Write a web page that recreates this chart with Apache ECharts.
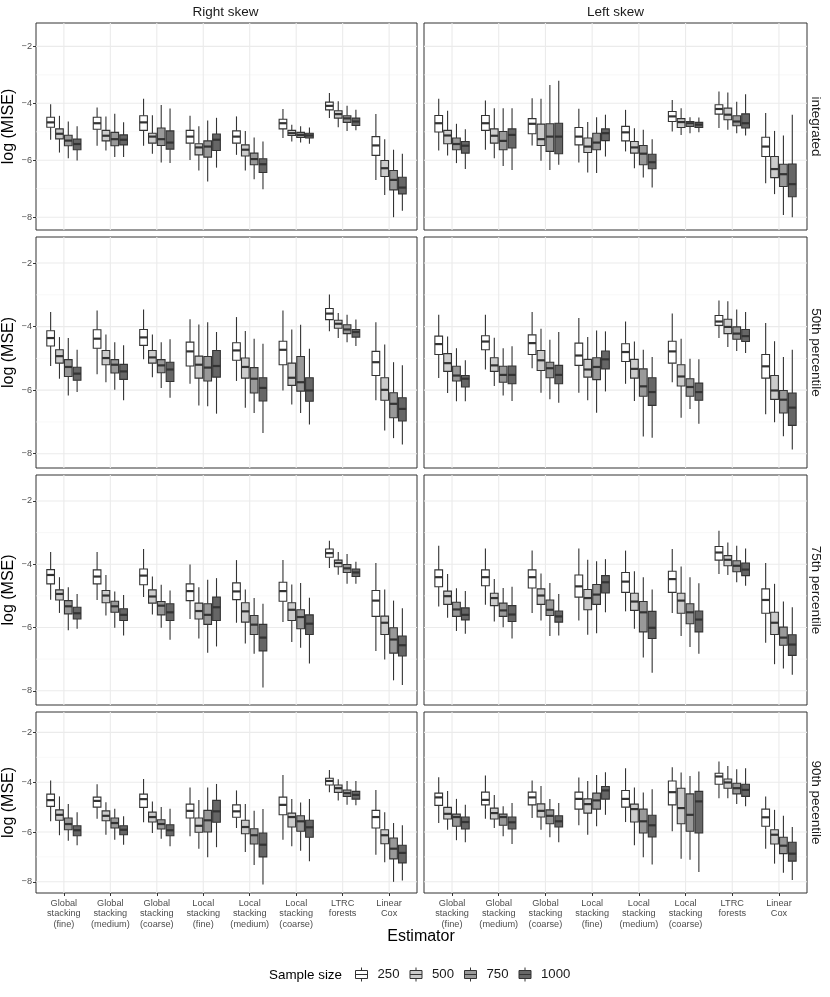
<!DOCTYPE html>
<html>
<head>
<meta charset="utf-8">
<title>log (MSE) by estimator and sample size</title>
<script src="https://cdn.jsdelivr.net/npm/echarts@6/dist/echarts.min.js"></script>
<style>
  html, body { margin: 0; padding: 0; background: #fff; }
  #chart { width: 830px; height: 997px; }
</style>
</head>
<body>
<div id="chart"></div>
<script>
// --- data: each estimator holds 4 boxes (n = 250, 500, 750, 1000) as [low, q1, median, q3, high] ---
const ESTIMATORS = [
  'Global\nstacking\n(fine)', 'Global\nstacking\n(medium)', 'Global\nstacking\n(coarse)',
  'Local\nstacking\n(fine)', 'Local\nstacking\n(medium)', 'Local\nstacking\n(coarse)',
  'LTRC\nforests', 'Linear\nCox'
];
const SIZES = ['250', '500', '750', '1000'];
const Y_TICKS = [-8, -6, -4, -2];
const Y_MINOR = [-7, -5, -3];
const COL_TITLES = ['Right skew', 'Left skew'];
const ROW_TITLES = ['integrated', '50th percentile', '75th percentile', '90th pecentile'];
const Y_TITLES = ['log (MISE)', 'log (MSE)', 'log (MSE)', 'log (MSE)'];

const rightIntegrated = [
  [[-5.28,-4.84,-4.67,-4.49,-4.03], [-5.73,-5.25,-5.07,-4.90,-4.44], [-5.93,-5.49,-5.31,-5.12,-4.64], [-6.01,-5.63,-5.43,-5.26,-4.81]],
  [[-5.49,-4.91,-4.70,-4.49,-4.15], [-5.66,-5.32,-5.14,-4.95,-4.46], [-5.89,-5.49,-5.26,-5.02,-4.37], [-5.89,-5.46,-5.28,-5.11,-4.67]],
  [[-5.49,-4.95,-4.67,-4.44,-3.84], [-5.77,-5.40,-5.17,-5.05,-4.42], [-6.08,-5.48,-5.26,-4.87,-4.06], [-6.10,-5.61,-5.38,-4.97,-4.18]],
  [[-5.99,-5.40,-5.17,-4.95,-4.44], [-6.36,-5.81,-5.55,-5.42,-4.81], [-6.75,-5.89,-5.52,-5.32,-4.60], [-6.26,-5.66,-5.28,-5.08,-4.51]],
  [[-5.81,-5.40,-5.17,-4.97,-4.46], [-6.36,-5.85,-5.63,-5.46,-4.97], [-6.67,-6.16,-5.96,-5.75,-5.20], [-7.02,-6.43,-6.14,-5.95,-5.34]],
  [[-5.22,-4.90,-4.70,-4.56,-4.20], [-5.34,-5.13,-5.05,-4.95,-4.75], [-5.38,-5.20,-5.11,-5.02,-4.81], [-5.42,-5.22,-5.13,-5.05,-4.85]],
  [[-4.52,-4.23,-4.09,-3.96,-3.64], [-4.84,-4.52,-4.38,-4.26,-3.93], [-4.97,-4.67,-4.53,-4.44,-4.09], [-4.95,-4.78,-4.64,-4.52,-4.23]],
  [[-6.69,-5.83,-5.48,-5.17,-4.38], [-7.22,-6.57,-6.28,-6.01,-5.26], [-8.00,-7.04,-6.69,-6.36,-5.63], [-7.77,-7.18,-6.96,-6.60,-5.77]]
];
const leftIntegrated = [
  [[-5.66,-5.01,-4.70,-4.43,-3.84], [-5.83,-5.42,-5.13,-4.95,-4.26], [-6.10,-5.63,-5.43,-5.22,-4.72], [-6.31,-5.75,-5.49,-5.34,-4.91]],
  [[-5.63,-4.95,-4.70,-4.43,-3.90], [-5.93,-5.40,-5.14,-4.90,-4.17], [-6.20,-5.63,-5.32,-4.99,-4.17], [-6.34,-5.57,-5.11,-4.90,-4.17]],
  [[-5.48,-5.07,-4.72,-4.54,-3.82], [-6.02,-5.48,-5.26,-4.73,-3.84], [-6.34,-5.69,-5.17,-4.72,-3.36], [-6.16,-5.77,-5.17,-4.70,-3.21]],
  [[-6.08,-5.46,-5.17,-4.85,-4.19], [-6.43,-5.73,-5.52,-5.22,-4.66], [-6.45,-5.63,-5.38,-5.05,-4.49], [-5.87,-5.31,-5.05,-4.90,-4.40]],
  [[-5.69,-5.32,-5.02,-4.81,-4.23], [-6.28,-5.75,-5.55,-5.34,-4.88], [-6.61,-6.16,-5.77,-5.48,-4.93], [-6.96,-6.30,-6.07,-5.79,-5.26]],
  [[-4.99,-4.64,-4.46,-4.29,-3.88], [-5.11,-4.85,-4.66,-4.54,-4.17], [-5.05,-4.81,-4.70,-4.64,-4.49], [-5.02,-4.85,-4.75,-4.67,-4.50]],
  [[-4.87,-4.38,-4.20,-4.05,-3.59], [-4.93,-4.58,-4.40,-4.17,-3.62], [-5.05,-4.79,-4.64,-4.44,-3.95], [-5.13,-4.87,-4.70,-4.37,-3.68]],
  [[-6.81,-5.87,-5.52,-5.19,-4.34], [-7.19,-6.61,-6.31,-5.87,-4.97], [-7.92,-6.92,-6.49,-6.14,-5.13], [-8.00,-7.28,-6.84,-6.13,-4.40]]
];
const right50 = [
  [[-5.24,-4.61,-4.36,-4.13,-3.54], [-5.64,-5.15,-4.93,-4.73,-4.33], [-6.17,-5.57,-5.27,-5.04,-4.36], [-6.06,-5.69,-5.48,-5.28,-4.73]],
  [[-5.50,-4.68,-4.38,-4.10,-3.49], [-5.75,-5.20,-4.99,-4.75,-4.25], [-5.99,-5.46,-5.20,-5.04,-4.49], [-6.32,-5.66,-5.41,-5.19,-4.59]],
  [[-5.03,-4.59,-4.34,-4.09,-3.46], [-5.59,-5.15,-4.97,-4.75,-4.25], [-5.93,-5.45,-5.22,-5.04,-4.49], [-6.24,-5.73,-5.35,-5.12,-4.40]],
  [[-5.80,-5.24,-4.78,-4.49,-3.77], [-6.48,-5.62,-5.20,-4.93,-3.93], [-6.51,-5.71,-5.29,-4.94,-3.86], [-6.74,-5.59,-5.24,-4.75,-4.17]],
  [[-5.71,-5.06,-4.75,-4.51,-3.70], [-6.55,-5.62,-5.27,-4.99,-4.14], [-6.72,-6.09,-5.64,-5.29,-4.38], [-7.35,-6.34,-5.93,-5.61,-4.54]],
  [[-6.01,-5.20,-4.73,-4.46,-3.49], [-6.45,-5.85,-5.61,-5.15,-4.09], [-6.72,-6.03,-5.75,-4.94,-3.94], [-7.08,-6.35,-6.01,-5.61,-4.70]],
  [[-4.15,-3.78,-3.59,-3.43,-2.99], [-4.36,-4.05,-3.91,-3.80,-3.57], [-4.49,-4.22,-4.09,-3.94,-3.63], [-4.61,-4.33,-4.17,-4.09,-3.78]],
  [[-6.32,-5.54,-5.12,-4.78,-3.86], [-7.27,-6.32,-5.99,-5.61,-4.56], [-7.51,-6.87,-6.43,-6.08,-5.12], [-7.71,-6.97,-6.59,-6.24,-5.22]]
];
const left50 = [
  [[-5.62,-4.88,-4.55,-4.30,-3.63], [-6.09,-5.41,-5.15,-4.85,-4.31], [-6.35,-5.71,-5.54,-5.25,-4.68], [-6.35,-5.90,-5.64,-5.54,-5.06]],
  [[-5.35,-4.73,-4.47,-4.29,-3.63], [-5.87,-5.41,-5.22,-4.98,-4.35], [-6.17,-5.75,-5.52,-5.25,-4.68], [-6.34,-5.80,-5.52,-5.24,-4.62]],
  [[-5.31,-4.88,-4.52,-4.26,-3.54], [-6.08,-5.38,-5.06,-4.75,-4.07], [-6.29,-5.61,-5.31,-5.12,-4.41], [-6.40,-5.80,-5.52,-5.22,-4.17]],
  [[-6.08,-5.22,-4.91,-4.52,-3.73], [-6.32,-5.59,-5.35,-5.03,-4.33], [-6.71,-5.67,-5.27,-4.98,-4.12], [-6.04,-5.33,-5.03,-4.77,-4.15]],
  [[-5.80,-5.10,-4.80,-4.54,-3.84], [-6.34,-5.62,-5.33,-5.03,-4.47], [-7.46,-6.19,-5.88,-5.33,-4.73], [-7.50,-6.48,-6.06,-5.61,-4.96]],
  [[-5.75,-5.15,-4.78,-4.46,-3.59], [-6.87,-5.87,-5.57,-5.20,-4.38], [-6.59,-6.19,-5.90,-5.64,-5.01], [-7.06,-6.32,-6.06,-5.78,-5.03]],
  [[-4.36,-3.96,-3.84,-3.65,-3.18], [-4.64,-4.22,-4.01,-3.77,-3.20], [-4.77,-4.40,-4.22,-4.01,-3.46], [-4.83,-4.47,-4.30,-4.09,-3.54]],
  [[-6.76,-5.62,-5.25,-4.88,-3.89], [-7.01,-6.29,-6.01,-5.54,-4.46], [-7.45,-6.72,-6.30,-6.01,-4.96], [-7.87,-7.11,-6.55,-6.09,-4.73]]
];
const right75 = [
  [[-5.12,-4.62,-4.34,-4.17,-3.61], [-5.54,-5.13,-4.94,-4.81,-4.41], [-6.09,-5.57,-5.33,-5.15,-4.73], [-6.04,-5.73,-5.55,-5.36,-4.94]],
  [[-5.13,-4.62,-4.39,-4.18,-3.61], [-5.62,-5.22,-4.99,-4.83,-4.34], [-6.01,-5.52,-5.33,-5.17,-4.86], [-6.25,-5.78,-5.60,-5.41,-4.97]],
  [[-5.04,-4.65,-4.36,-4.15,-3.52], [-5.59,-5.23,-5.02,-4.81,-4.39], [-6.01,-5.60,-5.31,-5.18,-4.65], [-6.39,-5.78,-5.52,-5.25,-4.83]],
  [[-5.73,-5.15,-4.85,-4.62,-4.01], [-6.35,-5.73,-5.48,-5.23,-4.73], [-6.80,-5.90,-5.60,-5.25,-4.49], [-6.60,-5.78,-5.36,-5.04,-4.44]],
  [[-5.85,-5.12,-4.86,-4.59,-3.87], [-6.51,-5.83,-5.49,-5.22,-4.80], [-6.83,-6.22,-5.91,-5.62,-5.07], [-7.90,-6.74,-6.32,-5.90,-5.25]],
  [[-5.83,-5.17,-4.85,-4.57,-3.87], [-6.46,-5.78,-5.44,-5.22,-4.64], [-6.64,-6.04,-5.67,-5.44,-4.59], [-7.14,-6.22,-5.88,-5.60,-5.06]],
  [[-4.12,-3.78,-3.65,-3.52,-3.26], [-4.33,-4.08,-3.96,-3.87,-3.61], [-4.62,-4.26,-4.13,-4.01,-3.68], [-4.62,-4.39,-4.26,-4.15,-3.92]],
  [[-6.74,-5.65,-5.15,-4.83,-3.96], [-7.01,-6.22,-5.85,-5.64,-4.80], [-7.67,-6.81,-6.38,-6.01,-5.15], [-7.82,-6.90,-6.56,-6.27,-5.39]]
];
const left75 = [
  [[-5.34,-4.71,-4.41,-4.18,-3.42], [-5.69,-5.27,-5.01,-4.85,-4.31], [-6.11,-5.65,-5.43,-5.20,-4.76], [-6.20,-5.76,-5.60,-5.38,-4.85]],
  [[-5.28,-4.68,-4.41,-4.18,-3.50], [-5.81,-5.31,-5.07,-4.92,-4.47], [-5.99,-5.65,-5.46,-5.23,-4.75], [-6.35,-5.81,-5.59,-5.31,-4.71]],
  [[-5.54,-4.75,-4.41,-4.18,-3.57], [-5.78,-5.27,-4.99,-4.78,-4.29], [-6.27,-5.62,-5.44,-5.13,-4.59], [-6.25,-5.83,-5.65,-5.48,-4.94]],
  [[-5.78,-5.04,-4.70,-4.34,-3.50], [-6.23,-5.44,-5.07,-4.80,-3.86], [-6.18,-5.27,-4.96,-4.64,-3.91], [-5.52,-4.91,-4.57,-4.36,-3.84]],
  [[-5.49,-4.89,-4.55,-4.26,-3.57], [-6.04,-5.46,-5.18,-4.92,-4.22], [-6.95,-6.14,-5.52,-5.18,-4.41], [-7.43,-6.35,-6.01,-5.49,-4.80]],
  [[-5.54,-4.89,-4.47,-4.22,-3.52], [-6.27,-5.55,-5.15,-4.92,-4.07], [-6.62,-5.88,-5.52,-5.25,-4.41], [-6.83,-6.14,-5.75,-5.48,-4.60]],
  [[-4.31,-3.87,-3.63,-3.44,-2.94], [-4.34,-4.05,-3.86,-3.73,-3.31], [-4.57,-4.24,-4.05,-3.89,-3.42], [-4.68,-4.36,-4.17,-3.96,-3.50]],
  [[-6.48,-5.55,-5.13,-4.78,-3.96], [-7.16,-6.22,-5.85,-5.52,-4.62], [-7.30,-6.56,-6.32,-5.99,-5.18], [-7.49,-6.88,-6.54,-6.23,-5.36]]
];
const right90 = [
  [[-5.57,-4.97,-4.72,-4.48,-3.93], [-6.13,-5.53,-5.31,-5.11,-4.57], [-6.35,-5.91,-5.68,-5.44,-4.88], [-6.53,-6.15,-5.93,-5.75,-5.21]],
  [[-5.47,-5.00,-4.75,-4.60,-4.08], [-6.11,-5.55,-5.35,-5.15,-4.80], [-6.31,-5.84,-5.64,-5.44,-5.07], [-6.51,-6.11,-5.91,-5.75,-5.37]],
  [[-5.61,-5.01,-4.68,-4.48,-3.87], [-6.04,-5.60,-5.40,-5.20,-4.77], [-6.27,-5.88,-5.68,-5.51,-5.00], [-6.57,-6.15,-5.93,-5.71,-5.07]],
  [[-6.17,-5.44,-5.15,-4.88,-4.21], [-6.67,-6.01,-5.75,-5.44,-4.71], [-7.01,-6.00,-5.53,-5.13,-4.21], [-6.61,-5.61,-5.17,-4.73,-4.07]],
  [[-5.84,-5.41,-5.17,-4.91,-4.33], [-6.80,-6.07,-5.80,-5.53,-4.88], [-7.33,-6.48,-6.13,-5.87,-5.15], [-8.11,-7.00,-6.51,-6.04,-5.08]],
  [[-6.31,-5.31,-4.91,-4.60,-3.71], [-6.57,-5.80,-5.40,-5.24,-4.67], [-6.75,-5.97,-5.57,-5.35,-4.81], [-7.17,-6.21,-5.81,-5.53,-4.67]],
  [[-4.40,-4.11,-3.95,-3.84,-3.51], [-4.73,-4.41,-4.24,-4.11,-3.88], [-4.91,-4.57,-4.44,-4.31,-3.95], [-4.93,-4.68,-4.51,-4.37,-3.95]],
  [[-6.91,-5.84,-5.40,-5.13,-4.31], [-7.21,-6.47,-6.13,-5.91,-5.21], [-8.00,-7.08,-6.67,-6.24,-5.64], [-7.95,-7.24,-6.84,-6.53,-5.73]]
];
const left90 = [
  [[-5.64,-4.93,-4.61,-4.44,-3.80], [-5.91,-5.48,-5.27,-5.01,-4.35], [-6.33,-5.77,-5.40,-5.28,-4.67], [-6.41,-5.88,-5.60,-5.40,-4.91]],
  [[-5.47,-4.91,-4.71,-4.40,-3.73], [-5.84,-5.48,-5.24,-5.04,-4.51], [-6.17,-5.73,-5.40,-5.28,-4.97], [-6.48,-5.88,-5.61,-5.40,-4.84]],
  [[-5.44,-4.91,-4.61,-4.40,-3.93], [-5.91,-5.40,-5.15,-4.87,-4.15], [-6.21,-5.67,-5.35,-5.11,-4.67], [-6.41,-5.80,-5.57,-5.35,-4.84]],
  [[-5.73,-5.08,-4.67,-4.40,-3.81], [-6.11,-5.24,-4.88,-4.67,-3.95], [-5.77,-5.08,-4.73,-4.44,-3.71], [-5.31,-4.68,-4.33,-4.17,-3.60]],
  [[-5.60,-5.00,-4.67,-4.33,-3.44], [-6.53,-5.60,-5.08,-4.88,-4.21], [-7.01,-6.04,-5.57,-5.08,-4.41], [-7.31,-6.20,-5.73,-5.33,-4.28]],
  [[-5.97,-4.91,-4.40,-3.95,-3.40], [-7.07,-5.67,-5.04,-4.24,-3.61], [-7.11,-5.97,-5.31,-4.47,-3.75], [-7.61,-6.04,-4.77,-4.37,-3.57]],
  [[-4.64,-4.08,-3.77,-3.64,-3.17], [-4.64,-4.24,-4.01,-3.87,-3.35], [-4.88,-4.47,-4.24,-4.04,-3.48], [-4.97,-4.57,-4.31,-4.08,-3.44]],
  [[-6.67,-5.77,-5.41,-5.08,-4.57], [-7.27,-6.48,-6.11,-5.91,-5.11], [-7.64,-6.87,-6.55,-6.21,-5.35], [-7.93,-7.17,-6.87,-6.41,-5.80]]
];

const PANELS = [
  [rightIntegrated, leftIntegrated],
  [right50, left50],
  [right75, left75],
  [right90, left90]
];

// --- layout / style ---
const FONT = '"Liberation Sans", Arial, sans-serif';
const FILLS = ['#ffffff', '#cccccc', '#999999', '#666666'];
const EDGE = '#333333';
const COL_LEFT = [34, 424];
const COL_WIDTH = 383;
const ROW_TOP = [23, 237, 475, 712];
const ROW_HEIGHT = [207, 231, 230, 181];
const Y_MIN = -8.45, Y_MAX = -1.18;
const DODGE = 0.19, BOX_W = 0.165;

const chart = echarts.init(document.getElementById('chart'));

function boxRenderer(offset) {
  return function (params, api) {
    const x = api.value(0) + offset;
    const p = [1, 2, 3, 4, 5].map(d => api.coord([x, api.value(d)]));
    const hw = api.size([BOX_W, 0])[0] / 2;
    const cx = p[0][0];
    return {
      type: 'group',
      children: [
        { type: 'line', shape: { x1: cx, y1: p[4][1], x2: cx, y2: p[3][1] }, style: { stroke: EDGE, lineWidth: 1.1 } },
        { type: 'line', shape: { x1: cx, y1: p[1][1], x2: cx, y2: p[0][1] }, style: { stroke: EDGE, lineWidth: 1.1 } },
        { type: 'rect', shape: { x: cx - hw, y: p[3][1], width: 2 * hw, height: p[1][1] - p[3][1] },
          style: { fill: api.visual('color'), stroke: EDGE, lineWidth: 1.1 } },
        { type: 'line', shape: { x1: cx - hw, y1: p[2][1], x2: cx + hw, y2: p[2][1] }, style: { stroke: EDGE, lineWidth: 2.2 } }
      ]
    };
  };
}

// grid lines: [x, y, orientation (0 horiz / 1 vert), kind (0 major / 1 minor)]
const gridLineData = [];
Y_TICKS.forEach(v => gridLineData.push([1, v, 0, 0]));
Y_MINOR.forEach(v => gridLineData.push([1, v, 0, 1]));
ESTIMATORS.forEach((_, i) => gridLineData.push([i + 1, -5, 1, 0]));

function renderGridLine(params, api) {
  const cs = params.coordSys;
  const pt = api.coord([api.value(0), api.value(1)]);
  const major = api.value(3) === 0;
  const shape = api.value(2) === 0
    ? { x1: cs.x, y1: pt[1], x2: cs.x + cs.width, y2: pt[1] }
    : { x1: pt[0], y1: cs.y, x2: pt[0], y2: cs.y + cs.height };
  return { type: 'line', shape, style: { stroke: major ? '#ebebeb' : '#f4f4f4', lineWidth: major ? 1.1 : 0.6 } };
}

const grids = [], xAxes = [], yAxes = [], series = [], graphics = [];

PANELS.forEach((row, r) => {
  row.forEach((panel, c) => {
    const idx = grids.length;
    const bottomRow = r === PANELS.length - 1;
    grids.push({
      left: COL_LEFT[c], top: ROW_TOP[r], width: COL_WIDTH, height: ROW_HEIGHT[r],
      show: true, borderColor: EDGE, borderWidth: 1, backgroundColor: '#fff'
    });
    xAxes.push({
      type: 'value', gridIndex: idx, min: 0.4, max: 8.6,
      axisLine: { show: false },
      splitLine: { show: false },
      axisTick: { show: bottomRow, length: 3, lineStyle: { color: EDGE }, customValues: ESTIMATORS.map((_, i) => i + 1) },
      axisLabel: {
        show: bottomRow, customValues: ESTIMATORS.map((_, i) => i + 1), margin: 5,
        formatter: v => ESTIMATORS[Math.round(v) - 1],
        color: '#4d4d4d', fontSize: 9.2, lineHeight: 10.4, fontFamily: FONT
      }
    });
    yAxes.push({
      type: 'value', gridIndex: idx, min: Y_MIN, max: Y_MAX,
      name: c === 0 ? Y_TITLES[r] : '', nameLocation: 'middle', nameGap: 19,
      nameTextStyle: { fontSize: 16, color: '#000', fontFamily: FONT },
      axisLine: { show: false },
      splitLine: { show: false },
      axisTick: { show: c === 0, length: 3, lineStyle: { color: EDGE }, customValues: Y_TICKS },
      axisLabel: {
        show: c === 0, customValues: Y_TICKS, margin: 4,
        formatter: v => (v < 0 ? '\u2212' : '') + Math.abs(v),
        color: '#4d4d4d', fontSize: 9.2, fontFamily: FONT
      }
    });
    series.push({
      type: 'custom', xAxisIndex: idx, yAxisIndex: idx, z: 1, silent: true,
      encode: { x: 0, y: 1 }, renderItem: renderGridLine, data: gridLineData
    });
    SIZES.forEach((size, s) => {
      series.push({
        type: 'custom', name: size, xAxisIndex: idx, yAxisIndex: idx, z: 3, silent: true,
        itemStyle: { color: FILLS[s] },
        encode: { x: 0, y: [1, 2, 3, 4, 5] },
        renderItem: boxRenderer((s - 1.5) * DODGE),
        data: panel.map((boxes, i) => [i + 1].concat(boxes[s]))
      });
    });
  });
  graphics.push({
    type: 'text', x: 816, y: ROW_TOP[r] + ROW_HEIGHT[r] / 2, rotation: -Math.PI / 2,
    style: { text: ROW_TITLES[r], fontSize: 13.5, fill: '#1a1a1a', fontFamily: FONT, align: 'center', verticalAlign: 'middle' }
  });
});

COL_TITLES.forEach((t, c) => {
  graphics.push({
    type: 'text', x: COL_LEFT[c] + COL_WIDTH / 2, y: 12,
    style: { text: t, fontSize: 13.5, fill: '#1a1a1a', fontFamily: FONT, align: 'center', verticalAlign: 'middle' }
  });
});
graphics.push({
  type: 'text', x: 421, y: 937,
  style: { text: 'Estimator', fontSize: 16, fill: '#000', fontFamily: FONT, align: 'center', verticalAlign: 'middle' }
});
graphics.push({
  type: 'text', x: 342, y: 975,
  style: { text: 'Sample size', fontSize: 13.4, fill: '#000', fontFamily: FONT, align: 'right', verticalAlign: 'middle' }
});

chart.setOption({
  animation: false,
  backgroundColor: '#fff',
  grid: grids,
  xAxis: xAxes,
  yAxis: yAxes,
  series: series,
  graphic: graphics,
  legend: {
    data: SIZES, left: 350, top: 962, itemWidth: 12, itemHeight: 14, itemGap: 10,
    icon: 'path://M6,0L6,3M0,3L12,3L12,11L0,11ZM0,7L12,7M6,11L6,14',
    itemStyle: { borderColor: EDGE, borderWidth: 1 },
    selectedMode: false,
    textStyle: { fontSize: 13.2, color: '#1a1a1a', fontFamily: FONT, padding: [0, 0, 0, 5] }
  }
});
</script>
</body>
</html>
